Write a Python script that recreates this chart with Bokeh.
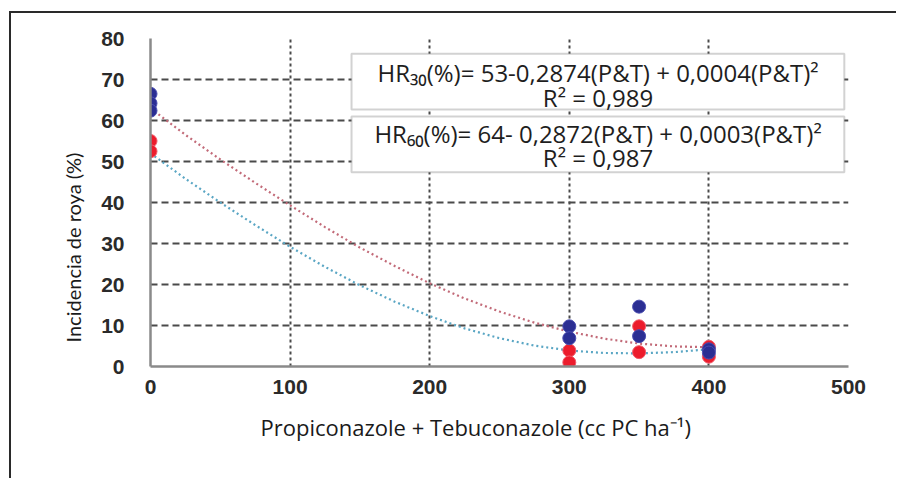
from bokeh.plotting import figure
from bokeh.models import Range1d, FixedTicker, BoxAnnotation, Label, Title
from bokeh.embed import file_html
from bokeh.resources import INLINE

# ---- data ----
x_ticks = [0, 100, 200, 300, 400, 500]
y_ticks = [0, 10, 20, 30, 40, 50, 60, 70, 80]

# HR30 observations (red points)
hr30_x = [0, 0, 300, 300, 350, 350, 400, 400]
hr30_y = [55.0, 52.5, 3.9, 1.0, 9.8, 3.5, 4.8, 2.4]
# HR60 observations (blue points)
hr60_x = [0, 0, 0, 300, 300, 350, 350, 400, 400]
hr60_y = [66.5, 64.2, 62.4, 9.8, 6.9, 14.6, 7.4, 4.2, 3.4]

# fitted trend curves
curve_x = [0, 25, 50, 75, 100, 125, 150, 175, 200, 225, 250, 275, 300, 325, 350, 375, 400]
curve_red = [63.0, 56.5, 50.5, 44.8, 39.3, 34.0, 29.0, 24.5, 20.3, 16.6, 13.4, 10.7, 8.5, 6.8, 5.6, 4.9, 4.7]
curve_teal = [52.0, 45.8, 40.0, 34.5, 29.2, 24.3, 19.8, 15.8, 12.3, 9.3, 6.9, 5.1, 3.9, 3.3, 3.2, 3.5, 4.2]

eq_lines = [
    "HR\u2083\u2080(%)= 53-0,2874(P&T) + 0,0004(P&T)\u00b2",
    "R\u00b2 = 0,989",
    "HR\u2086\u2080(%)= 64- 0,2872(P&T) + 0,0003(P&T)\u00b2",
    "R\u00b2 = 0,987",
]

x_label = "Propiconazole + Tebuconazole (cc PC ha\u207b\u00b9)"
y_label = "Incidencia de roya (%)"

p = figure(width=887, height=467, output_backend="svg", toolbar_location=None,
           x_range=Range1d(0, 500), y_range=Range1d(0, 80),
           min_border_left=139, min_border_right=50, min_border_top=25,
           min_border_bottom=114)
p.styles = {"border-left": "2px solid #2a2a2a", "border-top": "2px solid #2a2a2a",
            "margin-left": "9px", "margin-top": "11px"}
p.outline_line_color = None
p.background_fill_color = "white"
p.border_fill_color = "white"

# grids
p.xgrid.ticker = FixedTicker(ticks=x_ticks)
p.ygrid.ticker = FixedTicker(ticks=y_ticks)
p.xgrid.grid_line_color = "#4a4a4a"
p.xgrid.grid_line_width = 2
p.xgrid.grid_line_dash = "3 3"
p.ygrid.grid_line_color = "#4a4a4a"
p.ygrid.grid_line_width = 2
p.ygrid.grid_line_dash = "7 4"

# axes
for ax in (p.xaxis[0], p.yaxis[0]):
    ax.axis_line_color = "#8a8a8a"
    ax.axis_line_width = 2.5
    ax.major_tick_line_color = None
    ax.minor_tick_line_color = None
    ax.major_tick_out = 0
    ax.major_tick_in = 0
    ax.major_label_text_font = "Liberation Sans"
    ax.major_label_text_font_style = "bold"
    ax.major_label_text_font_size = "21px"
    ax.major_label_text_color = "#2a2a2a"
p.xaxis.ticker = FixedTicker(ticks=x_ticks)
p.yaxis.ticker = FixedTicker(ticks=y_ticks)
p.yaxis.major_label_standoff = 26
p.xaxis.major_label_standoff = 13

# axis titles (offset from the frame centre as in the original)
p.add_layout(Title(text=x_label, align="left", offset=110, text_font="Open Sans",
                   text_font_size="22px", text_font_style="normal",
                   text_color="#1a1a1a", standoff=27), "below")
p.add_layout(Title(text=y_label, align="left", offset=24, text_font="Lato",
                   text_font_size="20px", text_font_style="normal",
                   text_color="#1a1a1a", standoff=27), "left")

# trend curves
p.line(curve_x, curve_red, line_color="#c26a78", line_width=2.2, line_dash="2 3")
p.line(curve_x, curve_teal, line_color="#5aa6c4", line_width=2.2, line_dash="2 3")

# points
p.scatter(hr30_x, hr30_y, size=13, fill_color="#ec1c2c", line_color="#f05a6a", line_width=1)
p.scatter(hr60_x, hr60_y, size=13, fill_color="#2b2e93", line_color="#4a4db0", line_width=1)

# equation boxes
for top, bottom in ((76.3, 62.7), (61.0, 47.4)):
    p.add_layout(BoxAnnotation(left=144, right=497, top=top, bottom=bottom,
                               fill_color="white", fill_alpha=1.0,
                               line_color="#6a6a6a", line_width=2))

for txt, yy in zip(eq_lines, [71.6, 65.6, 56.8, 51.0]):
    p.add_layout(Label(x=320.6, y=yy, text=txt, text_font="Open Sans", text_font_size="24px",
                       text_color="#1e1e1e", text_align="center", text_baseline="middle"))

open("out.html", "w").write(file_html(p, INLINE))
